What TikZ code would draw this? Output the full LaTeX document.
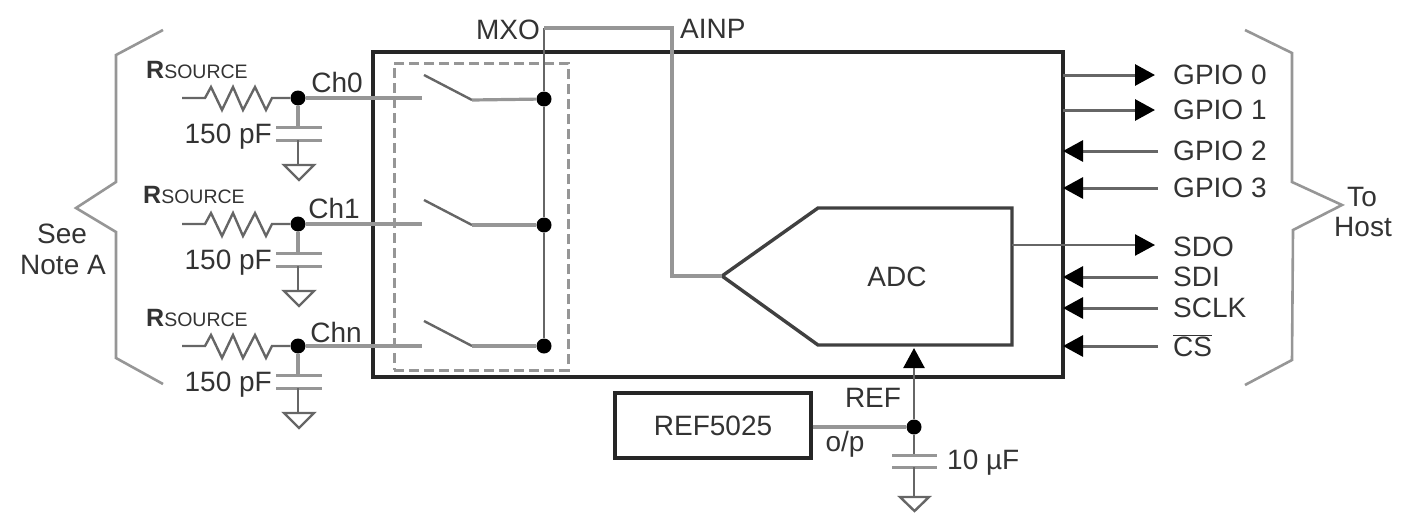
\documentclass[tikz,border=0pt]{standalone}
\usepackage{fontspec}
\setmainfont{Liberation Sans}
\usetikzlibrary{arrows.meta}
\definecolor{ink}{HTML}{333333}
\definecolor{wire}{HTML}{666666}
\definecolor{pale}{HTML}{969696}
\newcommand{\lbl}{\fontsize{28}{30}\selectfont}
\newcommand{\rsrc}{{\fontsize{25}{28}\selectfont\bfseries R}{\fontsize{19.5}{22}\selectfont SOURCE}}
\tikzset{
  x=1pt,y=-1pt,
  txt/.style={text=ink,inner sep=0pt,font=\lbl},
  thick box/.style={draw=black!85,line width=3.4pt},
  adcbox/.style={draw=black!75,line width=3.4pt,line join=miter},
  wireline/.style={draw=wire,line width=3pt},
  thin wire/.style={draw=wire,line width=2.4pt},
  soft wire/.style={draw=pale,line width=3.2pt},
  plate/.style={draw=pale,line width=3pt},
  brace/.style={draw=pale,line width=2.6pt},
  dot/.style={circle,fill=black,inner sep=0pt,minimum size=15pt},
  tip/.style={-{Triangle[length=20pt,width=21pt,color=black]}},
  gnd/.style={draw=wire,line width=2.4pt,line join=miter},
}
\begin{document}
\begin{tikzpicture}
\useasboundingbox (0,0) rectangle (1402,517);
% braces
\draw[brace] (163,30) -- (116,55) -- (116,182) -- (76,208) -- (116,232) -- (116,358) -- (163,384);
\draw[brace] (1245,30) -- (1292,53) -- (1292,182) -- (1342,205) -- (1293,230) -- (1292,360) -- (1245,385);
% junction and terminal names
\node[dot] (n0) at (298,98) {};
\node[dot] (n1) at (298,224) {};
\node[dot] (n2) at (298,346) {};
\node[dot] (b0) at (544,99) {};
\node[dot] (b1) at (544,225) {};
\node[dot] (b2) at (544,346) {};
\node[dot] (nr) at (914,427) {};
\coordinate (mxo) at (544,28);
\coordinate (ainptop) at (672,28);
\coordinate (ainpmid) at (672,276);
% main box
\node[thick box,minimum width=690pt,minimum height=325pt,inner sep=0pt] (chip) at (718,214.5) {};
% dashed mux box
\node[draw=pale,dashed,dash pattern=on 10pt off 5pt,line width=3pt,minimum width=174pt,minimum height=307pt,inner sep=0pt] (mux) at (481,216.5) {};
% ADC
\coordinate (adcin) at (722,276);
\draw[adcbox] (adcin) -- (818,208) -- (1012,208) -- (1012,345) -- (818,345) -- cycle;
\coordinate (adcbot) at (914,348);
\coordinate (adcout) at (1012,245);
\node[txt] (adclabel) at (897,277) {ADC};
% bus
\draw[thin wire] (mxo) -- (b0);
\draw[thin wire] (b0) -- (b1);
\draw[thin wire] (b1) -- (b2);
\draw[soft wire] (mxo) -- (ainptop) -- (ainpmid) -- (adcin);
% channels
\foreach \i/\y/\ya in {0/98/100,1/224/225,2/346/346}{
  \coordinate (r\i) at (182,\y);
  \coordinate (s\i) at (422,\y);
  \coordinate (blade\i) at (424,\ya-25);
  \coordinate (hinge\i) at (472,\ya);
  \draw[thin wire,line join=miter] (r\i) -- ++(23,0) -- ++(6,-11) -- ++(11,23) -- ++(11,-23) -- ++(10,23) -- ++(12,-23) -- ++(11,23) -- ++(6,-12) -- (n\i);
  \draw[soft wire] (n\i) -- (s\i);
  \draw[thin wire] (blade\i) -- (hinge\i);
  \draw[soft wire] (hinge\i) -- (b\i);
  % capacitor and ground
  \coordinate (ctop\i) at (298,\y+29);
  \coordinate (cbot\i) at (298,\y+42);
  \coordinate (g\i) at (298,\y+67);
  \draw[soft wire] (n\i) -- (ctop\i);
  \draw[plate] (276,\y+29) -- (322,\y+29);
  \draw[plate] (276,\y+42) -- (322,\y+42);
  \draw[thin wire] (cbot\i) -- (g\i);
  \draw[gnd] (284,\y+67) -- (314,\y+67) -- (299,\y+82) -- cycle;
  \node[txt,anchor=east] (cap\i) at (272,\y+39) {150 pF};
}
\node[txt,anchor=west] (rs0) at (146,70) {\rsrc};
\node[txt,anchor=west] (rs1) at (143,195) {\rsrc};
\node[txt,anchor=west] (rs2) at (146,318) {\rsrc};
\node[txt] (ch0) at (337,82) {Ch0};
\node[txt] (ch1) at (334,208) {Ch1};
\node[txt] (chn) at (336,332) {Chn};
\node[txt,anchor=east] (mxol) at (540,30) {MXO};
\node[txt,anchor=west] (ainpl) at (680,29) {AINP};
\node[txt] (see) at (62,234) {See};
\node[txt] (notea) at (63,265) {Note A};
\node[txt] (to) at (1362,197) {To};
\node[txt] (host) at (1363,227) {Host};
% host signals
\foreach \name/\t/\y in {g0/GPIO 0/75,g1/GPIO 1/110}{
  \node[txt,anchor=west] (\name) at (1173,\y) {\t};
  \coordinate (\name e) at (1063,\y);
  \coordinate (\name t) at (1155,\y);
  \draw[wireline,tip] (\name e) -- (\name t);
}
\foreach \name/\t/\y in {g2/GPIO 2/151,g3/GPIO 3/188,sdi/SDI/277,sclk/SCLK/308}{
  \node[txt,anchor=west] (\name) at (1173,\y) {\t};
  \coordinate (\name e) at (1063,\y);
  \coordinate (\name t) at (1158,\y);
  \draw[wireline,tip] (\name t) -- (\name e);
}
\node[txt,anchor=west] (sdo) at (1173,247) {SDO};
\coordinate (sdot) at (1155,245);
\draw[thin wire,tip] (adcout) -- (sdot);
\node[txt,anchor=west] (cs) at (1173,346) {$\overline{\mbox{CS}}$};
\coordinate (cse) at (1063,346);
\coordinate (cst) at (1158,346);
\draw[wireline,tip] (cst) -- (cse);
% reference
\node[thick box,minimum width=196pt,minimum height=65pt,inner sep=0pt,txt] (ref) at (713,425.5) {REF5025};
\draw[soft wire] (ref.east |- nr) -- (nr);
\draw[thin wire,tip] (nr) -- (adcbot);
\node[txt] (refl) at (873,398) {REF};
\node[txt] (op) at (845,444) {o/p};
\coordinate (rctop) at (914,455);
\coordinate (rcbot) at (914,467);
\coordinate (rg) at (914,497);
\draw[thin wire] (nr) -- (rctop);
\draw[plate] (892,455) -- (937,455);
\draw[plate] (892,467) -- (937,467);
\draw[thin wire] (rcbot) -- (rg);
\draw[gnd] (900,497) -- (929,497) -- (914.5,511) -- cycle;
\node[txt,anchor=west] (tenuf) at (947,463) {10 µF};
\end{tikzpicture}
\end{document}
